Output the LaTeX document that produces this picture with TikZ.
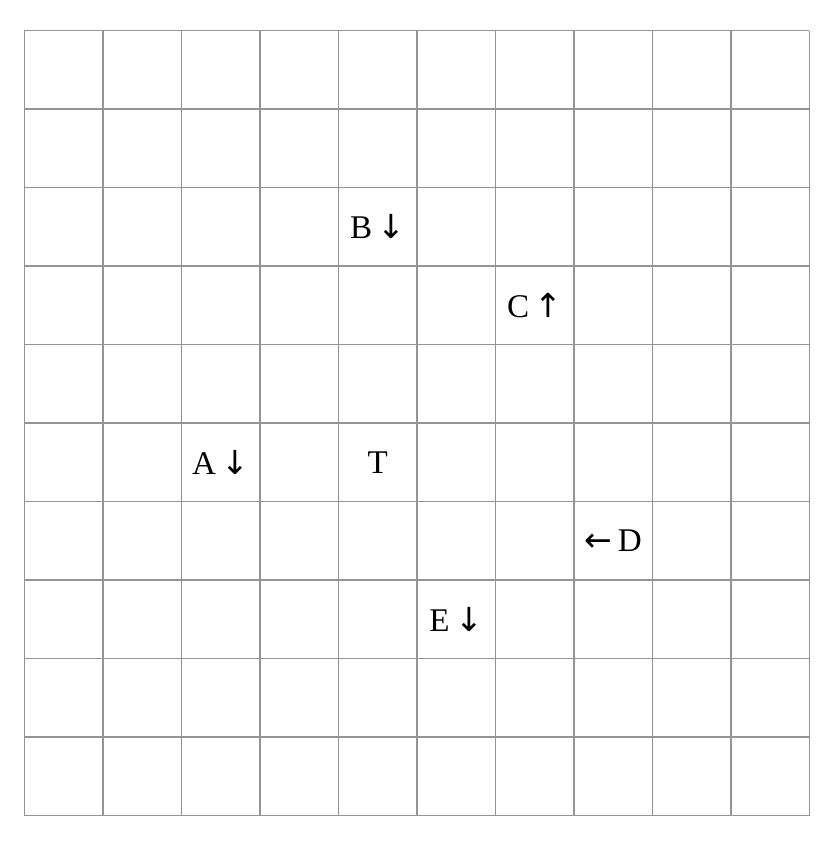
\documentclass[tikz,border=0pt]{standalone}
\usepackage{fontspec}
\setmainfont{Liberation Serif}
\newfontfamily\arrowfont{DejaVu Sans}
\usepackage{tikz}
\newcommand{\dn}{{\arrowfont ↓}}
\newcommand{\up}{{\arrowfont ↑}}
\newcommand{\lft}{{\arrowfont ←}}

\begin{document}
\begin{tikzpicture}[x=1cm, y=1cm, font=\fontsize{12}{14}\selectfont]
    \useasboundingbox (-0.312,-0.363) rectangle (10.338,10.389);
    % board
    \draw[black!42, line width=0.5pt] (0,0) grid[step=1] (10,10);
    % pieces
    \node (B) at (4.5,7.5) {B\,\dn};
    \node (C) at (6.5,6.5) {C\,\up};
    \node (A) at (2.5,4.5) {A\,\dn};
    \node (T) at (4.5,4.5) {T};
    \node (D) at (7.5,3.5) {\lft\,D};
    \node (E) at (5.5,2.5) {E\,\dn};
  \end{tikzpicture}
\end{document}
